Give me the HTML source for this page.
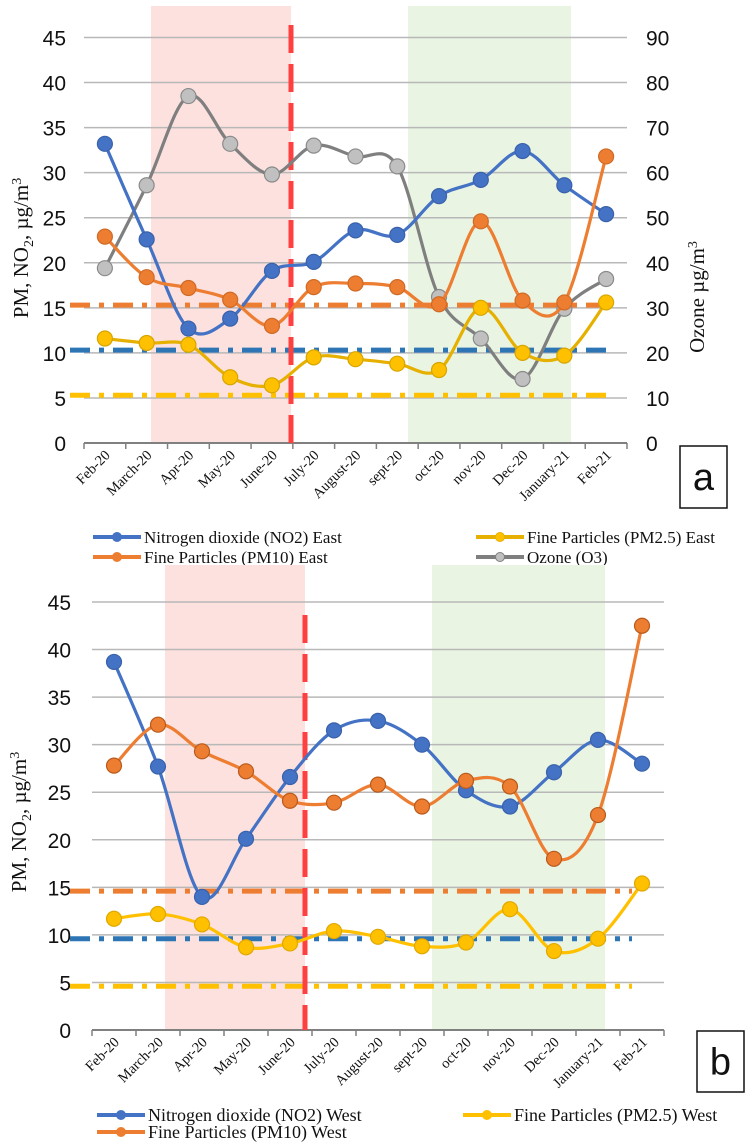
<!DOCTYPE html>
<html><head><meta charset="utf-8">
<style>
html,body{margin:0;padding:0;background:#fff;}
svg{display:block;}
</style></head>
<body>
<svg id="chart" width="749" height="1145" viewBox="0 0 749 1145" xmlns="http://www.w3.org/2000/svg"></svg>
<script>
const categories = ["Feb-20","March-20","Apr-20","May-20","June-20","July-20","August-20","sept-20","oct-20","nov-20","Dec-20","January-21","Feb-21"];
const yTicks = [0,5,10,15,20,25,30,35,40,45];
const ozoneTicks = [0,10,20,30,40,50,60,70,80,90];
// Chart a (East)
const no2East = [33.2,22.6,12.7,13.8,19.1,20.1,23.6,23.1,27.4,29.2,32.4,28.6,25.4];
const pm10East = [22.9,18.4,17.2,15.9,13.0,17.3,17.7,17.3,15.4,24.6,15.8,15.6,31.8];
const pm25East = [11.6,11.1,10.9,7.3,6.4,9.5,9.3,8.8,8.1,15.0,10.0,9.7,15.6];
const ozoneEast = [38.8,57.2,77.0,66.4,59.6,66.0,63.6,61.4,32.4,23.2,14.2,29.8,36.4];
const limitsEast = [15.3,10.3,5.3];
// Chart b (West)
const no2West = [38.7,27.7,14.0,20.1,26.6,31.5,32.5,30.0,25.2,23.5,27.1,30.5,28.0];
const pm10West = [27.8,32.1,29.3,27.2,24.1,23.9,25.8,23.5,26.2,25.6,18.0,22.6,42.5];
const pm25West = [11.7,12.2,11.1,8.7,9.1,10.4,9.8,8.8,9.2,12.7,8.3,9.6,15.4];
const limitsWest = [14.6,9.6,4.6];

const NS = "http://www.w3.org/2000/svg";
const svg = document.getElementById('chart');
function mk(tag, attrs, parent, text){
  const e = document.createElementNS(NS, tag);
  for (const k in attrs) e.setAttribute(k, attrs[k]);
  if (text !== undefined) e.textContent = text;
  (parent||svg).appendChild(e);
  return e;
}
function smoothPath(pts){
  let d = "M"+pts[0][0]+","+pts[0][1];
  for (let i=0;i<pts.length-1;i++){
    const p0 = pts[Math.max(0,i-1)], p1 = pts[i], p2 = pts[i+1], p3 = pts[Math.min(pts.length-1,i+2)];
    const t = 0.5/3*1.0;
    const c1x = p1[0]+(p2[0]-p0[0])*t, c1y = p1[1]+(p2[1]-p0[1])*t;
    const c2x = p2[0]-(p3[0]-p1[0])*t, c2y = p2[1]-(p3[1]-p1[1])*t;
    d += " C"+c1x+","+c1y+" "+c2x+","+c2y+" "+p2[0]+","+p2[1];
  }
  return d;
}

function drawChart(cfg){
  const g = mk('g', {});
  
  
  const L=cfg.left, R=cfg.right, T=cfg.y45, B=cfg.y0;
  const n = categories.length, bw=(R-L)/n;
  const xs = i => L + bw*(i+0.5);
  const ys = v => B - (B-T)*v/45;
  const pink = mk('rect',{x:cfg.pink[0],y:cfg.shadeTop,width:cfg.pink[1]-cfg.pink[0],height:B-cfg.shadeTop,fill:'#fde1de'},g);
  
  
  const green = mk('rect',{x:cfg.green[0],y:cfg.shadeTop,width:cfg.green[1]-cfg.green[0],height:B-cfg.shadeTop,fill:'#e9f4e3'},g);
  
  
  yTicks.forEach(v=>{
    if (v>0){
      const gl = mk('line',{x1:L,x2:R,y1:ys(v),y2:ys(v),stroke:'#b8b8b8','stroke-width':1.5},g);
      
      
    }
    const t = mk('text',{x:cfg.yLabelX,y:ys(v)+8,'text-anchor':'end','font-family':'Liberation Sans, sans-serif','font-size':21,fill:'#111'},g,String(v));
    
    
  });
  if (cfg.ozone){
    ozoneTicks.forEach(v=>{
      const t = mk('text',{x:R+19,y:ys(v/2)+8,'text-anchor':'start','font-family':'Liberation Sans, sans-serif','font-size':21,fill:'#111'},g,String(v));
      
      
    });
  }
  const ax = mk('line',{x1:L,x2:R,y1:B,y2:B,stroke:'#808080','stroke-width':2},g);
  
  
  for (let i=0;i<=n;i++){
    const tk = mk('line',{x1:L+bw*i,x2:L+bw*i,y1:B,y2:B+6,stroke:'#808080','stroke-width':1.5},g);
    
    
  }
  categories.forEach((c,i)=>{
    const x = xs(i)+6, y = B+13;
    const t = mk('text',{x:x,y:y,'text-anchor':'end','font-family':'Liberation Serif, serif','font-size':14.5,fill:'#111',transform:'rotate(-45 '+x+' '+y+')'},g,c);
    
    
  });
  const limColors = ['#ed7d31','#2e75b6','#ffc000'];
  cfg.limits.forEach((v,i)=>{
    const l = mk('line',{x1:cfg.limX[0],x2:cfg.limX[1],y1:ys(v),y2:ys(v),stroke:limColors[i],'stroke-width':5,'stroke-dasharray':'20 9 5 9'},g);
    
    
  });
  const rl = mk('line',{x1:cfg.redX,x2:cfg.redX,y1:cfg.redTop,y2:B,stroke:'#ff4040','stroke-width':5,'stroke-dasharray':'28 11'},g);
  
  
  cfg.series.forEach(s=>{
    const pts = s.data.map((v,i)=>[xs(i), ys(s.ozone? v/2 : v)]);
    const p = mk('path',{d:smoothPath(pts),fill:'none',stroke:s.color,'stroke-width':3.2},g);
    
    
    pts.forEach(pt=>{
      const c = mk('circle',{cx:pt[0],cy:pt[1],r:cfg.r,fill:s.fill,stroke:s.stroke,'stroke-width':1.2},g);
      
      
    });
  });
  const yt = mk('text',{x:0,y:0,'text-anchor':'middle','font-family':'Liberation Serif, serif','font-size':21,fill:'#111',transform:'translate('+cfg.titleX+' '+cfg.titleY+') rotate(-90)'},g);
  
  
  yt.innerHTML = 'PM, NO<tspan font-size="14" dy="5">2</tspan><tspan dy="-5">, µg/m</tspan><tspan font-size="14" dy="-7">3</tspan>';
  if (cfg.ozone){
    const ot = mk('text',{x:0,y:0,'text-anchor':'middle','font-family':'Liberation Serif, serif','font-size':21,fill:'#111',transform:'translate(704 297) rotate(-90)'},g);
    
    
    ot.innerHTML = 'Ozone µg/m<tspan font-size="14" dy="-7">3</tspan>';
  }
  const bx = mk('rect',{x:cfg.box[0],y:cfg.box[1],width:cfg.box[2],height:cfg.box[3],fill:'#fff',stroke:'#111','stroke-width':1.5},g);
  
  
  const bt = mk('text',{x:cfg.box[0]+cfg.box[2]/2,y:cfg.box[1]+cfg.box[3]/2+13,'text-anchor':'middle','font-family':'Liberation Sans, sans-serif','font-size':38,fill:'#111'},g,cfg.label);
  
  
  cfg.legend.forEach(e=>{
    const lg = mk('g',{},g);
    
    
    mk('line',{x1:e.x,x2:e.x+48,y1:e.y,y2:e.y,stroke:e.color,'stroke-width':4},lg);
    mk('circle',{cx:e.x+24,cy:e.y,r:4.5,fill:e.fill,stroke:e.color},lg);
    mk('text',{x:e.x+51,y:e.y+6,'font-family':'Liberation Serif, serif','font-size':cfg.legendSize,fill:'#111'},lg,e.text);
  });
}

drawChart({name:'chart-a-east',left:84,right:627,y45:37.5,y0:443,shadeTop:6,pink:[151,291],green:[408,571],
  yLabelX:66,ozone:true,limits:limitsEast,limX:[70,612],redX:291,redTop:25,r:7.5,
  titleX:28,titleY:248,box:[680,446,47,62],label:'a',legendSize:17,
  series:[
    {name:'ozone',data:ozoneEast,ozone:true,color:'#7f7f7f',fill:'#c0c0c0',stroke:'#8a8a8a'},
    {name:'no2-east',data:no2East,color:'#4472c4',fill:'#4472c4',stroke:'#3a62ab'},
    {name:'pm10-east',data:pm10East,color:'#ed7d31',fill:'#ed7d31',stroke:'#d06a25'},
    {name:'pm25-east',data:pm25East,color:'#e6b000',fill:'#ffc000',stroke:'#d6a500'}],
  legend:[
    {x:93,y:537,color:'#4472c4',fill:'#4472c4',text:'Nitrogen dioxide (NO2) East'},
    {x:476,y:537,color:'#e6b000',fill:'#ffc000',text:'Fine Particles (PM2.5) East'},
    {x:93,y:557,color:'#ed7d31',fill:'#ed7d31',text:'Fine Particles (PM10) East'},
    {x:476,y:557,color:'#7f7f7f',fill:'#c0c0c0',text:'Ozone (O3)'}]
});
drawChart({name:'chart-b-west',left:92,right:664,y45:602,y0:1030,shadeTop:565,pink:[165,305],green:[432,605],
  yLabelX:71,ozone:false,limits:limitsWest,limX:[70,632],redX:305,redTop:615,r:7.5,
  titleX:26,titleY:822,box:[697,1031,47,61],label:'b',legendSize:18,
  series:[
    {name:'no2-west',data:no2West,color:'#4472c4',fill:'#4472c4',stroke:'#3a62ab'},
    {name:'pm10-west',data:pm10West,color:'#ed7d31',fill:'#ed7d31',stroke:'#b85a1c'},
    {name:'pm25-west',data:pm25West,color:'#ffc000',fill:'#ffc000',stroke:'#e0a800'}],
  legend:[
    {x:97,y:1115,color:'#4472c4',fill:'#4472c4',text:'Nitrogen dioxide  (NO2) West'},
    {x:463,y:1115,color:'#ffc000',fill:'#ffc000',text:'Fine Particles (PM2.5) West'},
    {x:97,y:1132,color:'#ed7d31',fill:'#ed7d31',text:'Fine Particles (PM10) West'}]
});
</script>
</body></html>
